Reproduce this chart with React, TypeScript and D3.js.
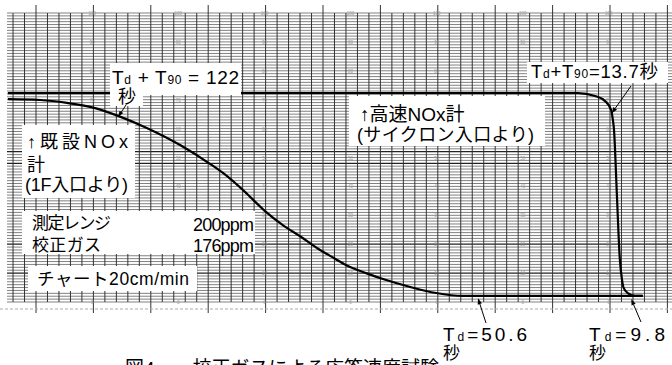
import React from 'react'
import * as d3 from 'd3'

// chart paper: x in major divisions, y in % of full scale
const legacyTime = [-0.49, 0.07, 0.54, 1.03, 1.43, 1.93, 2.51, 3.03, 3.28, 3.64, 3.97, 4.3, 4.62, 4.95, 5.19, 5.4, 5.75, 6.1, 6.52, 6.97, 7.44, 10.57]
const legacyValue = [70.2, 69.9, 68.9, 67.1, 64.4, 60.2, 54.3, 47.8, 44.3, 38.1, 31.8, 26.6, 22.5, 18.0, 15.2, 12.8, 10.0, 7.6, 5.2, 3.1, 2.1, 2.1]

const fastTime = [-0.49, 9.44, 9.74, 9.91, 10.02, 10.05, 10.07, 10.12, 10.17, 10.21, 10.24, 10.31, 10.44, 10.57]
const fastValue = [72.3, 72.3, 71.3, 69.6, 66.4, 63.0, 59.5, 37.0, 15.2, 7.6, 4.8, 3.1, 2.1, 2.1]

const accentRows = [10, 20, 48, 52]
const FONT = "'Liberation Sans', Arial, 'Noto Sans CJK JP', sans-serif"

const W = 672
const H = 365

// white label patches pasted over the chart paper [x, y, w, h]
const patches = [
  [110, 63, 131, 32],
  [110, 95, 33, 11],
  [527, 62, 141, 21],
  [349, 96, 196, 50],
  [22, 125, 113, 73],
  [22, 211, 233, 43],
  [28, 266, 169, 25],
]

export default function App() {
  const x = d3.scaleLinear().domain([0, 10]).range([36, 610])
  const y = d3.scaleLinear().domain([0, 100]).range([302, 13])

  const minors = d3.range(-2, 56)
  const rows = d3.range(0, 101)
  const labelCols = d3.range(0, 7).map(k => 4.9 + 7.5 * k)
  const labelRows = d3.range(0, 11).map(k => 100 - 10 * k)

  const hidden = (px: number, py: number) =>
    patches.some(([bx, by, bw, bh]) => px > bx - 6 && px < bx + bw + 6 && py > by - 4 && py < by + bh + 4)

  const line = d3.line<[number, number]>()
    .x(d => x(d[0]))
    .y(d => y(d[1]))
    .curve(d3.curveMonotoneX)

  const legacy = legacyTime.map((t, i) => [t, legacyValue[i]] as [number, number])
  const fast = fastTime.map((t, i) => [t, fastValue[i]] as [number, number])

  const arrow = (x1: number, y1: number, x2: number, y2: number, key: string) => {
    const a = Math.atan2(y2 - y1, x2 - x1)
    const l = 6, w = 2.2
    const bx = x2 - l * Math.cos(a), by = y2 - l * Math.sin(a)
    const p1 = [bx + w * Math.sin(a), by - w * Math.cos(a)]
    const p2 = [bx - w * Math.sin(a), by + w * Math.cos(a)]
    return (
      <g key={key}>
        <line x1={x1} y1={y1} x2={bx} y2={by} stroke="#000" strokeWidth={1} />
        <polygon points={`${x2},${y2} ${p1[0]},${p1[1]} ${p2[0]},${p2[1]}`} fill="#000" />
      </g>
    )
  }

  return (
    <svg width={W} height={H} style={{ position: 'absolute', left: 0, top: 0, background: '#fff' }}
      fontFamily={FONT}>
      <rect width={W} height={H} fill="#fff" />

      {/* horizontal chart lines */}
      {rows.map(p => (
        <line key={'h' + p} x1={7} x2={W} y1={y(p)} y2={y(p)}
          stroke={accentRows.includes(p) ? '#222' : '#6a6a6a'}
          strokeWidth={accentRows.includes(p) ? 1.2 : 0.85} />
      ))}

      {/* vertical chart lines */}
      {minors.map(m => (
        <line key={'v' + m} x1={x(m / 5)} x2={x(m / 5)}
          y1={m % 5 === 0 ? 5 : y(100)} y2={m % 5 === 0 ? 313 : y(0)}
          stroke="#333" strokeWidth={1} />
      ))}

      {/* tiny scale numbers printed on the paper */}
      {labelCols.map(c => labelRows.filter(r => !hidden(x(c / 5), y(r))).map(r => (
        <text key={`n${c}-${r}`} x={x(c / 5)} y={y(r) + 2} fontSize={4.5} fill="#999"
          textAnchor="middle">{r}</text>
      )))}

      <line x1={0} x2={W} y1={309} y2={309} stroke="#aaa" strokeWidth={1} strokeDasharray="3,2" />

      {/* traces */}
      <path d={line(fast) || ''} fill="none" stroke="#000" strokeWidth={2.2} />
      <path d={line(legacy) || ''} fill="none" stroke="#000" strokeWidth={2.2} />

      {/* annotation patches */}
      {patches.map(([bx, by, bw, bh], i) => (
        <rect key={'p' + i} x={bx} y={by} width={bw} height={bh} fill="#fff" />
      ))}

      <text x={112} y={84} fontSize={19} textLength={127} lengthAdjust="spacing">
        T<tspan fontSize={12}>d</tspan> + T<tspan fontSize={12}>90</tspan> = 122
      </text>
      <text x={118} y={103} fontSize={18}>秒</text>

      <text x={531} y={78} fontSize={18.5} textLength={127} lengthAdjust="spacing">
        T<tspan fontSize={12}>d</tspan>+T<tspan fontSize={12}>90</tspan>=13.7秒
      </text>

      <text x={360} y={121} fontSize={19}>↑高速NOx計</text>
      <text x={357} y={141} fontSize={18} textLength={177} lengthAdjust="spacing">(サイクロン入口より)</text>

      <text x={27} y={148} fontSize={18} textLength={101} lengthAdjust="spacing">↑既設NOx</text>
      <text x={27} y={171} fontSize={18}>計</text>
      <text x={25} y={191} fontSize={18} textLength={103} lengthAdjust="spacing">(1F入口より)</text>

      <text x={32} y={229} fontSize={17} textLength={79} lengthAdjust="spacing">測定レンジ</text>
      <text x={193} y={231} fontSize={18} textLength={61} lengthAdjust="spacing">200ppm</text>
      <text x={32} y={251} fontSize={17} textLength={69} lengthAdjust="spacing">校正ガス</text>
      <text x={193} y={252} fontSize={18} textLength={61} lengthAdjust="spacing">176ppm</text>

      <text x={37} y={285} fontSize={17.5} textLength={152} lengthAdjust="spacing">チャート20cm/min</text>

      <text x={443} y={341} fontSize={19} textLength={84} lengthAdjust="spacing">
        T<tspan fontSize={12}>d</tspan>=50.6
      </text>
      <text x={443} y={359} fontSize={17}>秒</text>
      <text x={589} y={341} fontSize={19} textLength={76} lengthAdjust="spacing">
        T<tspan fontSize={12}>d</tspan>=9.8
      </text>
      <text x={589} y={359} fontSize={17}>秒</text>

      {arrow(126, 105, x(1.43), y(64.4) + 1, 'a1')}
      {arrow(631, 86, x(10.03), y(65.3), 'a2')}
      {arrow(486, 323, x(7.7), y(1.3), 'a3')}
      {arrow(641, 322, x(10.37), y(1.0), 'a4')}

      <text x={125} y={375} fontSize={19}>図4　　校正ガスによる応答速度試験</text>
    </svg>
  )
}
